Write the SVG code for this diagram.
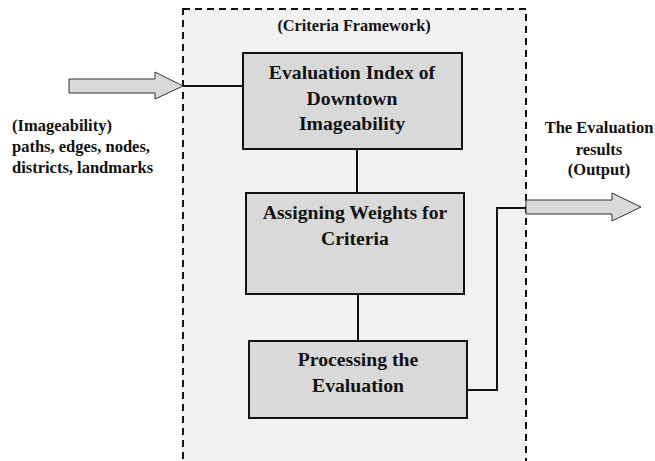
<svg xmlns="http://www.w3.org/2000/svg" width="655" height="461" viewBox="0 0 655 461">
<style>
text{font-family:"Liberation Serif","Times New Roman",serif;font-weight:bold;fill:#111}
.box{fill:#d9d9d9;stroke:#111;stroke-width:2}
.line{fill:none;stroke:#111;stroke-width:2}
.big{font-size:19.7px;text-anchor:middle}
.lbl{font-size:16.5px}
.arrow{fill:#d9d9d9;stroke:#333;stroke-width:1}
</style>
<rect width="655" height="461" fill="#fff"/>
<g id="framework">
<rect x="183" y="9" width="343" height="470" fill="#f2f2f2" stroke="#111" stroke-width="2" stroke-dasharray="7,5"/>
<text x="354" y="31" font-size="16.3" text-anchor="middle">(Criteria Framework)</text>
</g>
<g id="connectors">
<polygon class="arrow" points="69,79 155,79 155,72 183,86 155,99 155,93 69,93"/>
<polygon class="arrow" points="526,200 612,200 612,193 641,207 612,221 612,214 526,214"/>
<line class="line" x1="183" y1="86" x2="243" y2="86"/>
<line class="line" x1="357" y1="149" x2="357" y2="193"/>
<line class="line" x1="358" y1="284" x2="358" y2="341"/>
<polyline class="line" points="465,390 497,390 497,208 526,208"/>
</g>
<g id="input-label">
<text class="lbl" x="12" y="131">(Imageability)</text>
<text class="lbl" x="12" y="152">paths, edges, nodes,</text>
<text class="lbl" x="12" y="173">districts, landmarks</text>
</g>
<g id="output-label">
<text class="lbl" x="599" y="133" text-anchor="middle">The Evaluation</text>
<text class="lbl" x="599" y="155" text-anchor="middle">results</text>
<text class="lbl" x="599" y="175" text-anchor="middle">(Output)</text>
</g>
<g id="node-index">
<rect class="box" x="243" y="53" width="219" height="96"/>
<text class="big" x="352" y="79">Evaluation Index of</text>
<text class="big" x="352" y="104.5">Downtown</text>
<text class="big" x="352" y="130">Imageability</text>
</g>
<g id="node-weights">
<rect class="box" x="246" y="193" width="218" height="101"/>
<text class="big" x="355" y="219">Assigning Weights for</text>
<text class="big" x="355" y="245">Criteria</text>
</g>
<g id="node-processing">
<rect class="box" x="249" y="341" width="218" height="77"/>
<text class="big" x="358" y="366">Processing the</text>
<text class="big" x="358" y="392">Evaluation</text>
</g>
</svg>
